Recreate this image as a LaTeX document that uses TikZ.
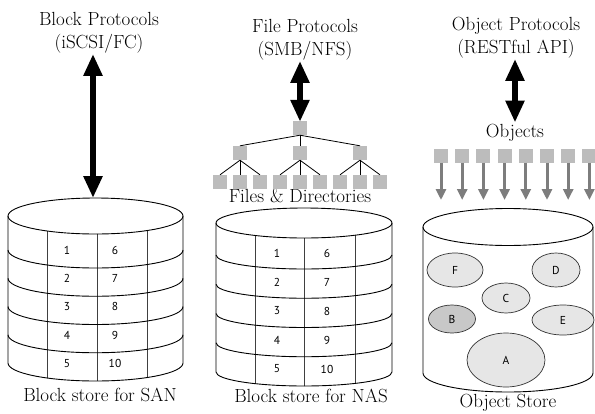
\documentclass[tikz,border=0pt]{standalone}
\usepackage{fontspec}
\newfontfamily\numfont{PT Sans}
\usetikzlibrary{arrows.meta,shapes.geometric}
\definecolor{sqgray}{RGB}{188,188,188}
\definecolor{arrgray}{RGB}{125,125,125}
\definecolor{ovfill}{RGB}{230,230,230}
\definecolor{ovdark}{RGB}{200,200,200}
\begin{document}
\begin{tikzpicture}[x=1pt,y=-1pt,
  lbl/.style={font=\fontsize{19}{23}\selectfont, align=center, inner sep=1pt, anchor=base},
  num/.style={font=\numfont\fontsize{11.5}{13}\selectfont, inner sep=0pt},
  bigarrow/.style={line width=6.5pt, {Triangle[length=22pt,width=18pt]}-{Triangle[length=22pt,width=18pt]}},
  sq/.style={fill=sqgray, minimum size=14pt, inner sep=0pt},
  tree/.style={line width=0.8pt},
  cyl/.style={line width=0.9pt},
  divider/.style={line width=0.8pt, draw=black!75},
  garrow/.style={draw=arrgray, line width=3pt, -{Triangle[length=11pt,width=10pt]}},
  oval/.style={ellipse, draw=black!80, line width=0.7pt, fill=ovfill, inner sep=0pt, font=\numfont\fontsize{11.5}{13}\selectfont}]
\useasboundingbox (0,0) rectangle (595,413);

% ---------- labels (anchor = baseline of last line) ----------
\node[lbl] (blk) at (99,48) {Block Protocols\\(iSCSI/FC)};
\node[lbl] (fp) at (305,55) {File Protocols\\(SMB/NFS)};
\node[lbl] (op) at (516,53) {Object Protocols\\(RESTful API)};
\node[lbl] (objs) at (515,137) {Objects};
\node[lbl] (fd) at (300,202) {Files \& Directories};
\node[lbl] (san) at (100,401) {Block store for SAN};
\node[lbl] (nas) at (311,402) {Block store for NAS};
\node[lbl] (ost) at (508,407) {Object Store};

% ---------- SAN cylinder ----------
\begin{scope}
  \clip (8,216) -- (8,363) arc[start angle=180,end angle=360,x radius=87.5pt,y radius=18pt] -- (183,216) arc[start angle=0,end angle=-180,x radius=87.5pt,y radius=18pt] -- cycle;
  \foreach \x in {47,97,147} \draw[divider] (\x,200) -- (\x,400);
\end{scope}
\draw[cyl] (95.5,216) ellipse [x radius=87.5pt, y radius=18pt];
\draw[cyl] (8,216) -- (8,363) arc[start angle=180,end angle=360,x radius=87.5pt,y radius=18pt] -- (183,216);
\foreach \y in {250,278.25,306.5,334.75}
  \draw[cyl] (8,\y) arc[start angle=180,end angle=360,x radius=87.5pt,y radius=18pt];
\coordinate (santop) at (93,198);
\foreach \a/\b [count=\i from 0] in {1/6,2/7,3/8,4/9,5/10}{
  \node[num] (sanl\i) at (67,{250+28.4*\i}) {\a};
  \node[num] (sanr\i) at (115,{250+28.4*\i}) {\b};
}

% ---------- NAS cylinder ----------
\begin{scope}
  \clip (216,223) -- (216,372) arc[start angle=180,end angle=360,x radius=88pt,y radius=14pt] -- (392,223) arc[start angle=0,end angle=-180,x radius=88pt,y radius=15pt] -- cycle;
  \foreach \x in {255,304,355} \draw[divider] (\x,200) -- (\x,400);
\end{scope}
\draw[cyl] (304,223) ellipse [x radius=88pt, y radius=15pt];
\draw[cyl] (216,223) -- (216,372) arc[start angle=180,end angle=360,x radius=88pt,y radius=14pt] -- (392,223);
\foreach \y in {255,284.25,313.5,342.75}
  \draw[cyl] (216,\y) arc[start angle=180,end angle=360,x radius=88pt,y radius=14pt];
\foreach \a/\b [count=\i from 0] in {1/6,2/7,3/8,4/9,5/10}{
  \node[num] (nasl\i) at (277,{253+29*\i}) {\a};
  \node[num] (nasr\i) at (327,{253+29*\i}) {\b};
}

% ---------- Object cylinder ----------
\draw[cyl] (508,227) ellipse [x radius=85pt, y radius=18.5pt];
\draw[cyl] (423,227) -- (423,373) arc[start angle=180,end angle=360,x radius=85pt,y radius=19pt] -- (593,227);
\node[oval, minimum width=56pt, minimum height=34pt] (F) at (455,270) {F};
\node[oval, minimum width=48pt, minimum height=34pt] (D) at (556,270) {D};
\node[oval, minimum width=48pt, minimum height=30pt] (C) at (506,298) {C};
\node[oval, minimum width=47pt, minimum height=28pt, fill=ovdark] (B) at (452,319) {B};
\node[oval, minimum width=62pt, minimum height=30pt] (E) at (563,320) {E};
\node[oval, minimum width=78pt, minimum height=54pt] (A) at (506,360) {A};

% ---------- file tree ----------
\node[sq] (root) at (300,128) {};
\node[sq] (ta) at (240,153) {};
\node[sq] (tb) at (300,153) {};
\node[sq] (tc) at (360,153) {};
\foreach \i in {1,...,9} \node[sq] (f\i) at ({200+20*\i},182) {};
\foreach \t in {ta,tb,tc} \draw[tree] (root.south) -- (\t.north);
\foreach \t in {f1,f2,f3} \draw[tree] (ta.south) -- (\t.north);
\foreach \t in {f4,f5,f6} \draw[tree] (tb.south) -- (\t.north);
\foreach \t in {f7,f8,f9} \draw[tree] (tc.south) -- (\t.north);

% ---------- objects ----------
\foreach \i in {0,...,7}{
  \node[sq] (o\i) at ({441+21.2*\i},155.5) {};
  \coordinate (oe\i) at ({441+21.2*\i},200);
  \draw[garrow] (o\i.south) -- (oe\i);
}

% ---------- big arrows ----------
\draw[bigarrow] (santop |- blk.south) -- (santop);
\draw[bigarrow] (root.north |- fp.south) -- ([yshift=-1pt]root.north);
\draw[bigarrow] (objs.north |- op.south) -- (objs.north);
\end{tikzpicture}
\end{document}
